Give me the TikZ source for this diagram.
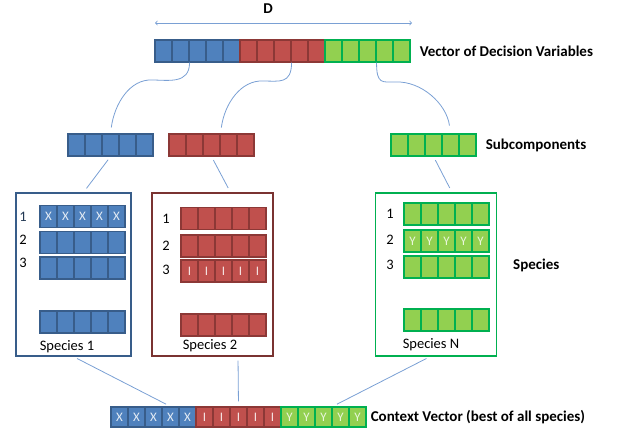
\documentclass[tikz,border=0pt]{standalone}
\usepackage{fontspec}
\setmainfont{Carlito}
\usetikzlibrary{positioning}

\definecolor{bfill}{HTML}{4F81BD}
\definecolor{bline}{HTML}{385D8A}
\definecolor{rfill}{HTML}{C0504D}
\definecolor{rline}{HTML}{8C3836}
\definecolor{rbox}{HTML}{7A3331}
\definecolor{gfill}{HTML}{92D050}
\definecolor{gline}{HTML}{00B050}
\definecolor{linkc}{HTML}{7AA0D4}

\tikzset{
  cell/.style={draw, line width=1.1pt, minimum width=17pt, minimum height=22pt,
    inner sep=0pt, font=\fontsize{13}{14}\selectfont},
  bcell/.style={cell, fill=bfill, draw=bline, text=bfill!15!white},
  rcell/.style={cell, fill=rfill, draw=rline, text=rfill!15!white},
  gcell/.style={cell, fill=gfill, draw=gline, text=gfill!20!white},
  link/.style={draw=linkc, line width=0.8pt},
  lbl/.style={font=\bfseries\fontsize{15}{17}\selectfont, inner sep=1pt},
  num/.style={font=\fontsize{14.5}{17}\selectfont, inner sep=1pt},
  spbox/.style={draw, line width=1.3pt, minimum height=163pt, inner sep=0pt},
}

\begin{document}
\begin{tikzpicture}[x=1pt, y=-1pt]
\useasboundingbox (0,0) rectangle (617,434);

% vector of decision variables
\foreach \i in {1,...,5} \node[bcell] (top-\i) at ({155+17*(\i-0.5)},51) {};
\foreach \i in {6,...,10} \node[rcell] (top-\i) at ({155+17*(\i-0.5)},51) {};
\foreach \i in {11,...,15} \node[gcell] (top-\i) at ({155+17*(\i-0.5)},51) {};
\node[lbl, right=8pt of top-15] (toplab) {Vector of Decision Variables};

\coordinate (dl) at (155,23);
\coordinate (dr) at (412,23);
\draw[link, <->] (dl) -- (dr);
\node[lbl] (dlab) at (268,9) {D};

% subcomponents
\foreach \i in {1,...,5} {
  \node[bcell] (sb-\i) at ({68+17*(\i-0.5)},145) {};
  \node[rcell] (sr-\i) at ({169+17*(\i-0.5)},145) {};
  \node[gcell] (sg-\i) at ({391+17*(\i-0.5)},145) {};
}
\node[lbl, right=8pt of sg-5] (sublab) {Subcomponents};

% species
\node[spbox, draw=bline, minimum width=115pt] (box1) at (73.5,274.5) {};
\node[spbox, draw=rbox, minimum width=121pt] (box2) at (212.5,274.5) {};
\node[spbox, draw=gline, minimum width=121pt] (box3) at (436,274.5) {};

\foreach \r/\y/\t in {1/216.5/X, 2/242.5/{}, 3/268/{}, 4/322/{}}
  \foreach \i in {1,...,5} \node[bcell] (b\r-\i) at ({40+17*(\i-0.5)},\y) {\t};
\foreach \r/\y/\t in {1/218.5/{}, 2/246/{}, 3/271/I, 4/325/{}}
  \foreach \i in {1,...,5} \node[rcell] (r\r-\i) at ({181+17*(\i-0.5)},\y) {\t};
\foreach \r/\y/\t in {1/214/{}, 2/241/Y, 3/267/{}, 4/320/{}}
  \foreach \i in {1,...,5} \node[gcell] (g\r-\i) at ({404+17*(\i-0.5)},\y) {\t};

\node[num, text=bline!60!black] (bn-1) at (23,217) {1};
\foreach \r/\y in {2/240,3/263} \node[num] (bn-\r) at (23,\y) {\r};
\foreach \r/\y in {1/219,2/246,3/270} \node[num] (rn-\r) at (166,\y) {\r};
\foreach \r/\y in {1/214,2/240,3/265} \node[num] (gn-\r) at (390,\y) {\r};

\node[num] (name1) at (67,347) {Species 1};
\node[num] (name2) at (210,346) {Species 2};
\node[num] (name3) at (431,345) {Species N};
\node[lbl, anchor=west] (splab) at (512,265) {Species};

% context vector
\foreach \i in {1,...,5} \node[bcell, minimum height=20pt] (ctx-\i) at ({111+17*(\i-0.5)},417) {X};
\foreach \i in {6,...,10} \node[rcell, minimum height=20pt] (ctx-\i) at ({111+17*(\i-0.5)},417) {I};
\foreach \i in {11,...,15} \node[gcell, minimum height=20pt] (ctx-\i) at ({111+17*(\i-0.5)},417) {Y};
\node[lbl, right=3pt of ctx-15] (ctxlab) {Context Vector (best of all species)};

% links
\coordinate (m1) at (152,80);
\coordinate (m2) at (263,81);
\coordinate (m3) at (396,82);
\draw[link, shorten >=6pt] (top-2.south east) .. controls +(0,22) and +(16,0) .. (m1)
  .. controls +(-22,-1) and +(4,-30) .. (sb-3.north);
\draw[link, shorten >=6pt] (top-8.south east) .. controls +(0,22) and +(16,0) .. (m2)
  .. controls +(-22,-1) and +(4,-30) .. (sr-3.north east);
\draw[link, shorten >=8pt] (top-13.south east) .. controls +(0,22) and +(-14,0) .. (m3)
  .. controls +(25,-1) and +(-4,-30) .. (sg-4.north);

\draw[link, shorten <=4pt, shorten >=5pt] (sb-3.south) -- ([xshift=10pt]box1.north);
\draw[link, shorten <=4pt, shorten >=5pt] (sr-3.south) -- ([xshift=18pt]box2.north);
\draw[link, shorten <=4pt, shorten >=5pt] (sg-3.south) -- ([xshift=16pt]box3.north);

\draw[link, shorten <=4pt, shorten >=5pt] (box1.south) -- (ctx-4.north);
\draw[link, shorten <=4pt, shorten >=5pt] ([xshift=25.5pt]box2.south) -- (ctx-8.north);
\draw[link, shorten <=4pt, shorten >=5pt] ([xshift=-6pt]box3.south) -- (ctx-13.north east);
\end{tikzpicture}
\end{document}
